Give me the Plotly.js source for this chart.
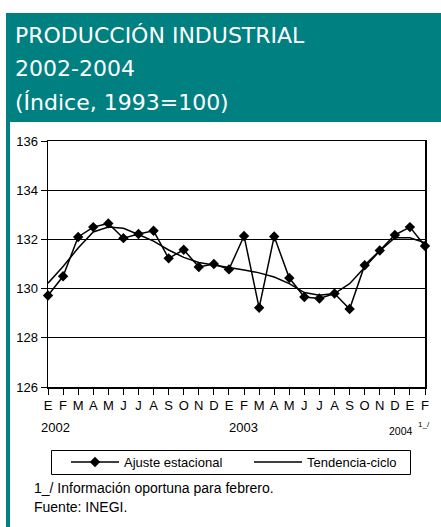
<!DOCTYPE html>
<html>
<head>
<meta charset="utf-8">
<script src="https://cdn.plot.ly/plotly-3.0.1.min.js"></script>
<style>
  html, body { margin: 0; padding: 0; background: #fff; }
  #chart { width: 441px; height: 527px; }
</style>
</head>
<body>
<div id="chart"></div>
<script>
// ---- Data ----
const months = ['E','F','M','A','M','J','J','A','S','O','N','D',
                'E','F','M','A','M','J','J','A','S','O','N','D',
                'E','F'];
const ajuste = [129.72,130.50,132.10,132.50,132.65,132.05,132.22,132.35,131.23,131.58,130.88,131.00,
                130.78,132.14,129.22,132.12,130.43,129.66,129.60,129.80,129.17,130.95,131.55,132.18,
                132.50,131.73];
const tendencia = [130.22,130.90,131.65,132.30,132.50,132.45,132.20,131.93,131.57,131.27,131.06,130.96,
                   130.88,130.76,130.64,130.47,130.20,129.84,129.73,129.80,130.20,130.85,131.53,132.07,
                   132.07,131.86];
const years = ['2002','2003','2004'];
const yearNote = '1_/';
const seriesNames = ['Ajuste estacional','Tendencia-ciclo'];
const titleLines = ['PRODUCCIÓN INDUSTRIAL','2002-2004','(Índice, 1993=100)'];
const footnotes = ['1_/ Información oportuna para febrero.','Fuente: INEGI.'];

// ---- Layout geometry ----
const W = 441, H = 527;
const M = {l: 48, r: 16, t: 141, b: 140};
const PW = W - M.l - M.r, PH = H - M.t - M.b;
const fx = px => (px - M.l) / PW;
const fy = py => (M.t + PH - py) / PH;

const TEAL = '#008080';
const FONT = 'Liberation Sans, Arial, sans-serif';
const xIdx = months.map((_, i) => i);

const traces = [
  {
    x: xIdx, y: ajuste, name: seriesNames[0], type: 'scatter', mode: 'lines+markers',
    line: {color: '#000', width: 1.5},
    marker: {symbol: 'diamond', size: 8, color: '#000'},
    cliponaxis: false, legend: 'legend'
  },
  {
    x: xIdx, y: tendencia, name: seriesNames[1], type: 'scatter', mode: 'lines',
    line: {color: '#000', width: 1.5},
    cliponaxis: false, legend: 'legend2'
  }
];

const annotations = [];
const titleBase = [35, 68.5, 102.5];
titleLines.forEach((t, i) => annotations.push({
  text: t, xref: 'paper', yref: 'paper', x: fx(13), y: fy(titleBase[i]),
  xanchor: 'left', yanchor: 'middle', showarrow: false,
  font: {family: 'DejaVu Sans, sans-serif', size: 22, color: '#fff'}
}));
// year labels
const yearPos = [[39, 427, 'left', 13], [243, 427, 'center', 13], [415, 431, 'right', 10.5]];
years.forEach((t, i) => annotations.push({
  text: t, xref: 'paper', yref: 'paper', x: fx(yearPos[i][0]), y: fy(yearPos[i][1]),
  xanchor: yearPos[i][2], yanchor: 'middle', showarrow: false,
  font: {family: FONT, size: yearPos[i][3], color: '#000'}
}));
annotations.push({
  text: yearNote, xref: 'paper', yref: 'paper', x: fx(416), y: fy(424),
  xanchor: 'left', yanchor: 'middle', showarrow: false,
  font: {family: FONT, size: 8, color: '#000'}
});
const footPos = [488, 507];
footnotes.forEach((t, i) => annotations.push({
  text: t, xref: 'paper', yref: 'paper', x: fx(32), y: fy(footPos[i]),
  xanchor: 'left', yanchor: 'middle', showarrow: false,
  font: {family: FONT, size: 14, color: '#000'}
}));

const shapes = [
  {type: 'rect', xref: 'paper', yref: 'paper', x0: fx(6), x1: fx(441), y0: fy(122), y1: fy(13),
   fillcolor: TEAL, line: {width: 0}, layer: 'below'},
  {type: 'rect', xref: 'paper', yref: 'paper', x0: fx(6), x1: fx(10), y0: fy(527), y1: fy(122),
   fillcolor: TEAL, line: {width: 0}, layer: 'below'},
  {type: 'rect', xref: 'paper', yref: 'paper', x0: fx(51.5), x1: fx(410.5), y0: fy(474.5), y1: fy(450.5),
   fillcolor: 'rgba(0,0,0,0)', line: {color: '#000', width: 1}}
];

function legendAt(px) {
  return {
    orientation: 'h', xref: 'paper', yref: 'paper',
    x: fx(px), y: fy(462), xanchor: 'left', yanchor: 'middle',
    font: {family: FONT, size: 13, color: '#000'},
    bgcolor: 'rgba(0,0,0,0)', borderwidth: 0, itemwidth: 48
  };
}

const layout = {
  width: W, height: H,
  margin: M,
  paper_bgcolor: '#fff', plot_bgcolor: '#fff',
  showlegend: true,
  legend: legendAt(66),
  legend2: legendAt(249),
  xaxis: {
    range: [0, months.length - 1], tickmode: 'array', tickvals: xIdx, ticktext: months,
    ticks: 'outside', ticklen: 6, tickcolor: '#000', tickwidth: 1, tickangle: 0,
    showline: true, linecolor: '#000', linewidth: 1.5, mirror: true,
    showgrid: false, zeroline: false,
    tickfont: {family: FONT, size: 13, color: '#000'}
  },
  yaxis: {
    range: [126, 136], tick0: 126, dtick: 2,
    ticks: 'outside', ticklen: 6, tickcolor: '#000', tickwidth: 1,
    showline: true, linecolor: '#000', linewidth: 1.5, mirror: true,
    showgrid: true, gridcolor: '#000', gridwidth: 1, zeroline: false,
    tickfont: {family: FONT, size: 13, color: '#000'}
  },
  annotations: annotations,
  shapes: shapes
};

Plotly.newPlot('chart', traces, layout, {displayModeBar: false, staticPlot: true});
</script>
</body>
</html>
